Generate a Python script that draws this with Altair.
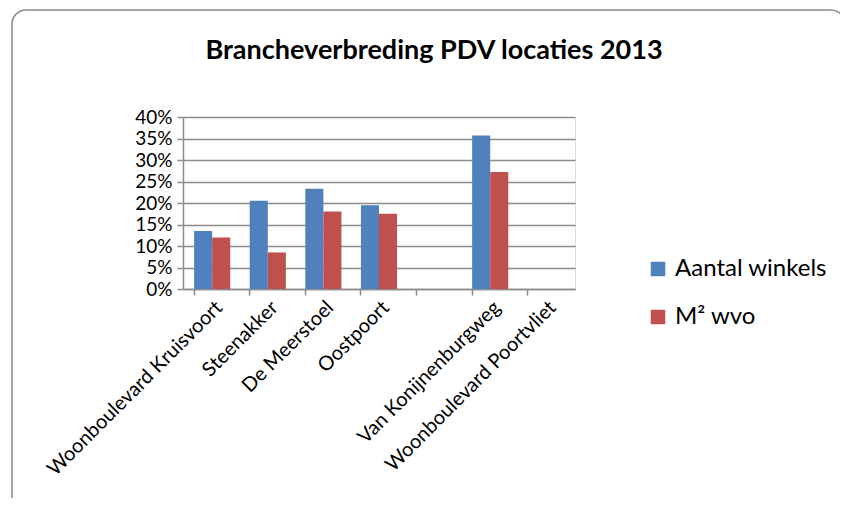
import altair as alt
import pandas as pd

title_text = "Brancheverbreding PDV locaties 2013"
categories = ["Woonboulevard Kruisvoort", "Steenakker", "De Meerstoel", "Oostpoort", " ",
              "Van Konijnenburgweg", "Woonboulevard Poortvliet"]
series = ["Aantal winkels", "M² wvo"]
aantal = [0.135, 0.205, 0.233, 0.195, None, 0.357, 0.0]
m2 = [0.120, 0.085, 0.180, 0.175, None, 0.272, 0.0]
y_ticks = [0, 0.05, 0.10, 0.15, 0.20, 0.25, 0.30, 0.35, 0.40]
colors = ["#4F81BD", "#C0504D"]

rows = []
for c, a, m in zip(categories, aantal, m2):
    if a is not None:
        rows.append({"cat": c, "serie": series[0], "v": a})
    if m is not None:
        rows.append({"cat": c, "serie": series[1], "v": m})
df = pd.DataFrame(rows)

FONT = "Lato"

bars = alt.Chart(df).mark_bar(stroke=None).encode(
    x=alt.X("cat:N", sort=categories,
            scale=alt.Scale(domain=categories, paddingInner=0.35, paddingOuter=0.2),
            axis=alt.Axis(title=None, labelAngle=-45, labelFont=FONT, labelFontSize=20,
                          labelColor="black", labelLimit=0, domainColor="#8c8c8c",
                          domainWidth=1.5, tickColor="#8c8c8c", tickWidth=1.5, tickSize=6,
                          bandPosition=0, labelPadding=2, grid=False)),
    xOffset=alt.XOffset("serie:N", sort=series, scale=alt.Scale(domain=series)),
    y=alt.Y("v:Q", scale=alt.Scale(domain=[0, 0.4]),
            axis=alt.Axis(title=None, format=".0%", values=y_ticks, labelFont=FONT,
                          labelFontSize=19, labelColor="black", grid=True,
                          gridColor="#8c8c8c", gridWidth=1.5, domainColor="#8c8c8c",
                          domainWidth=1.5, tickColor="#8c8c8c", tickWidth=1.5,
                          tickSize=6, labelPadding=5)),
    color=alt.Color("serie:N", sort=series,
                    scale=alt.Scale(domain=series, range=colors),
                    legend=alt.Legend(orient="none", legendX=463, legendY=140, title=None,
                                      symbolType="square", symbolSize=210,
                                      symbolStrokeWidth=0, labelFont=FONT,
                                      labelFontSize=24, labelColor="black",
                                      rowPadding=24, labelOffset=5, labelLimit=0)),
)

frame = alt.Chart(pd.DataFrame({"a": [0]})).mark_rect(
    fill=None, stroke="#8a8a8a", strokeWidth=1.5, cornerRadius=14, clip=False
).encode(
    x=alt.value(-171), x2=alt.value(662), y=alt.value(-107), y2=alt.value(400)
)

title = alt.Chart(pd.DataFrame({"t": [title_text]})).mark_text(
    font=FONT, fontSize=27, fontWeight="bold", color="black",
    align="center", baseline="middle", clip=False
).encode(
    text="t:N", x=alt.value(251), y=alt.value(-66)
)

chart = alt.layer(frame, bars, title).properties(
    width=392, height=172,
    autosize=alt.AutoSizeParams(type="none"),
    padding={"left": 175, "top": 109, "right": 265, "bottom": 209},
).configure_view(stroke=None).configure(background="white")

chart.save("out.html", embed_options={"renderer": "svg", "actions": False})
